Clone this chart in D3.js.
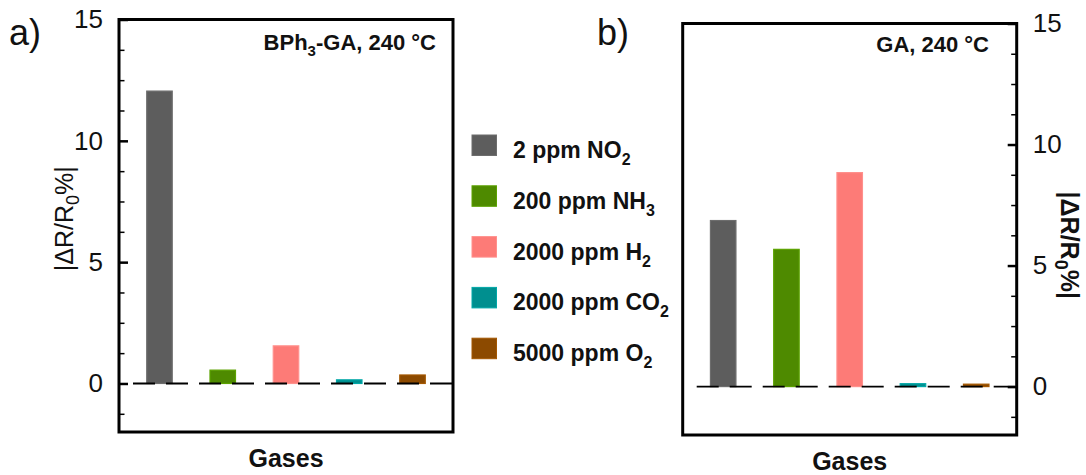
<!DOCTYPE html>
<html>
<head>
<meta charset="utf-8">
<script src="https://cdn.jsdelivr.net/npm/d3@7"></script>
<style>
  html, body { margin: 0; padding: 0; background: #fff; }
  svg { display: block; font-family: "Liberation Sans", Arial, Helvetica, sans-serif; }
</style>
</head>
<body>
<svg id="chart" width="1086" height="475"></svg>
<script>
// Gas species and their response values (|ΔR/R0| in %)
const gases = ["NO2", "NH3", "H2", "CO2", "O2"];
const concentrations = ["2 ppm", "200 ppm", "2000 ppm", "2000 ppm", "5000 ppm"];
const formulaBase = ["NO", "NH", "H", "CO", "O"];
const formulaSub = ["2", "3", "2", "2", "2"];
const colors = ["#5d5d5d", "#4e8a00", "#fd7b77", "#008f8f", "#8c4a00"];
const responseBPh3GA = [12.05, 0.55, 1.55, 0.15, 0.35];
const responseGA = [6.86, 5.67, 8.84, 0.12, 0.1];
const yDomain = [-2, 15];
const majorTicks = [0, 5, 10, 15];
const minorTicks = [-1.25, 1.25, 2.5, 3.75, 6.25, 7.5, 8.75, 11.25, 12.5, 13.75];

const svg = d3.select("#chart");

function drawPanel(opts) {
  const { left, right, top, bottom, values, side, letter, letterX, note, noteX, noteY,
          titleX, titleWeight } = opts;
  const g = svg.append("g");

  const x = d3.scalePoint().domain(gases).range([left, right]).padding(0.64);
  const y = d3.scaleLinear().domain(yDomain).range([bottom, top]);
  const barW = 25.5;

  // bars
  g.selectAll("rect.bar")
    .data(gases)
    .join("rect")
    .attr("class", "bar")
    .attr("x", d => x(d) - barW / 2)
    .attr("width", barW)
    .attr("y", (d, i) => y(values[i]))
    .attr("height", (d, i) => y(0) - y(values[i]))
    .attr("fill", (d, i) => colors[i])
    .attr("stroke", (d, i) => d3.color(colors[i]).brighter(0.45))
    .attr("stroke-width", 1.2);

  // dashed zero line
  g.append("line")
    .attr("x1", left + 14).attr("x2", right)
    .attr("y1", y(0)).attr("y2", y(0))
    .attr("stroke", "#000").attr("stroke-width", 1.9)
    .attr("stroke-dasharray", "22,11");

  // axes (ticks pointing into the frame)
  const isLeft = side === "left";
  const axisPos = isLeft ? left : right;
  const mkAxis = isLeft ? d3.axisLeft : d3.axisRight;

  const major = g.append("g")
    .attr("transform", `translate(${axisPos},0)`)
    .call(mkAxis(y).tickValues(majorTicks).tickSize(-9).tickPadding(16).tickFormat(d3.format("d")));
  major.select(".domain").remove();
  major.selectAll(".tick line").attr("stroke", "#000").attr("stroke-width", 2.5);
  major.selectAll(".tick text").attr("font-size", 26).attr("fill", "#111")
    .attr("font-family", "'Liberation Sans', Arial, sans-serif");

  const minor = g.append("g")
    .attr("transform", `translate(${axisPos},0)`)
    .call(mkAxis(y).tickValues(minorTicks).tickSize(-5.5).tickFormat(""));
  minor.select(".domain").remove();
  minor.selectAll(".tick line").attr("stroke", "#000").attr("stroke-width", 1.5);

  // frame
  g.append("rect")
    .attr("x", left).attr("y", top)
    .attr("width", right - left).attr("height", bottom - top)
    .attr("fill", "none").attr("stroke", "#000").attr("stroke-width", 3);

  // panel letter
  g.append("text")
    .attr("x", letterX).attr("y", 45)
    .attr("font-size", 36).attr("fill", "#111")
    .text(letter);

  // annotation in the upper right corner
  const nt = g.append("text")
    .attr("x", noteX).attr("y", noteY)
    .attr("text-anchor", "end")
    .attr("font-size", 22).attr("font-weight", "bold").attr("fill", "#111");
  note.forEach(part => {
    const t = nt.append("tspan").text(part.t);
    if (part.sub) t.attr("font-size", 15).attr("dy", 6);
    if (part.after) t.attr("dy", -6);
  });

  // x axis title
  g.append("text")
    .attr("x", (left + right) / 2).attr("y", bottom + 35)
    .attr("text-anchor", "middle")
    .attr("font-size", 25).attr("font-weight", "bold").attr("fill", "#111")
    .text("Gases");

  // y axis title
  const cy = (top + bottom) / 2 + (isLeft ? -7 : 16);
  const rot = isLeft ? -90 : 90;
  const yt = g.append("text")
    .attr("transform", `translate(${titleX},${cy}) rotate(${rot})`)
    .attr("text-anchor", "middle")
    .attr("font-size", 25).attr("font-weight", titleWeight).attr("fill", "#111");
  yt.append("tspan").text("|ΔR/R");
  yt.append("tspan").text("0").attr("font-size", 18).attr("dy", 6);
  yt.append("tspan").text("%|").attr("dy", -6);
}

drawPanel({
  left: 119, right: 453, top: 19.5, bottom: 432,
  values: responseBPh3GA, side: "left",
  letter: "a)", letterX: 9,
  note: [{ t: "BPh" }, { t: "3", sub: true }, { t: "-GA, 240 °C", after: true }],
  noteX: 436, noteY: 50,
  titleX: 73, titleWeight: "normal"
});

drawPanel({
  left: 682.7, right: 1016.7, top: 23.5, bottom: 435,
  values: responseGA, side: "right",
  letter: "b)", letterX: 597,
  note: [{ t: "GA, 240 °C" }],
  noteX: 989, noteY: 52,
  titleX: 1061, titleWeight: "bold"
});

// legend
const legend = svg.append("g");
const legendTop = 135;
const legendStep = 50.8;
gases.forEach((gas, i) => {
  const ly = legendTop + i * legendStep;
  legend.append("rect")
    .attr("x", 472).attr("y", ly)
    .attr("width", 24.5).attr("height", 20.5)
    .attr("fill", colors[i])
    .attr("stroke", d3.color(colors[i]).brighter(0.45))
    .attr("stroke-width", 1);
  const t = legend.append("text")
    .attr("x", 513).attr("y", ly + 23)
    .attr("font-size", 23).attr("font-weight", "bold").attr("fill", "#111");
  t.append("tspan").text(concentrations[i] + " " + formulaBase[i]);
  t.append("tspan").text(formulaSub[i]).attr("font-size", 16).attr("dy", 7);
});
</script>
</body>
</html>
